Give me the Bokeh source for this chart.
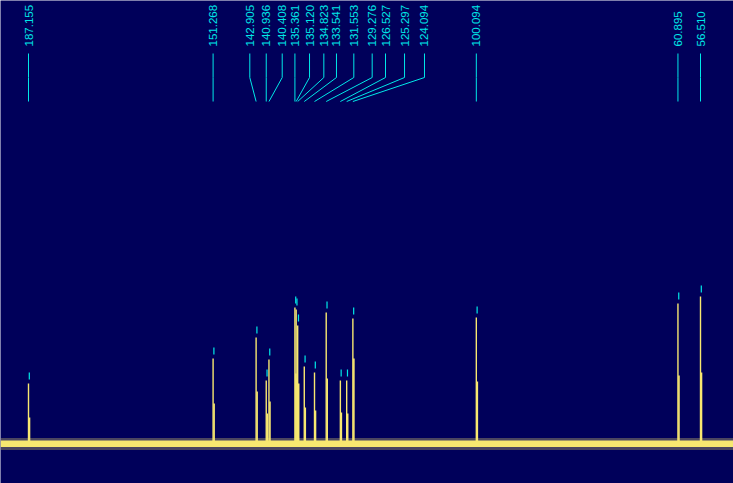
import math
from bokeh.plotting import figure
from bokeh.models import Range1d, ColumnDataSource
from bokeh.core.properties import value
from bokeh.embed import file_html
from bokeh.resources import INLINE

# ---- data ----
shifts = [187.155, 151.268, 142.905, 140.936, 140.408, 135.361, 135.120, 134.823,
          133.541, 131.553, 129.276, 126.527, 125.297, 124.094, 100.094, 60.895, 56.510]
heights = [60, 85, 106, 63, 84, 136, 134, 118, 77, 71, 131, 63, 63, 125, 126, 140, 147]
shoulders = [26, 40, 52, 30, 42, 70, 65, 60, 36, 33, 65, 31, 30, 85, 62, 68, 71]
# positions of the labels along the ppm axis (spread apart where peaks crowd)
label_pos = [187.155, 151.268, 144.13, 140.936, 137.83, 135.361, 132.52, 129.74,
             127.28, 123.91, 120.34, 117.75, 114.05, 110.17, 100.094, 60.895, 56.510]
# baseline noise: dense core and outer envelope
noise_core = [-3.5, 3.0]
noise_env = [-6.5, 5.5]

# ---- styles / layout ----
BG = "#00005a"
YEL = "#f8e870"
CYAN = "#00e8e8"
W, H = 733, 483
x_start, x_end = 192.599, 50.095
y_start, y_end = -40, 443
px = (x_start - x_end) / W      # ppm per pixel
py = (y_end - y_start) / H      # units per pixel

p = figure(width=W, height=H, output_backend="svg", toolbar_location=None,
           x_range=Range1d(x_start, x_end), y_range=Range1d(y_start, y_end),
           min_border=0, background_fill_color=BG, border_fill_color=BG)
p.axis.visible = False
p.grid.visible = False
p.outline_line_color = None

# baseline noise envelope
p.varea(x=[x_start, x_end], y1=[noise_env[0]] * 2, y2=[noise_env[1]] * 2,
        fill_color=YEL, fill_alpha=0.3)
p.varea(x=[x_start, x_end], y1=[noise_core[0]] * 2, y2=[noise_core[1]] * 2,
        fill_color=YEL)

# peaks: main sample + neighbouring sample
src = ColumnDataSource(dict(x=shifts, top=heights, sh=shoulders,
                            xs=[s - 1.0 * px for s in shifts],
                            tx=[s - 0.8 * px for s in shifts],
                            t0=[h + 4 * py for h in heights],
                            t1=[h + 11 * py for h in heights],
                            lab=[f"{s:.3f}" for s in shifts],
                            lx=label_pos))
p.vbar(x="x", top="top", bottom=0, width=1.4 * px, source=src,
       fill_color=YEL, line_color=None)
p.vbar(x="xs", top="sh", bottom=0, width=1.6 * px, source=src,
       fill_color=YEL, line_color=None)

# small peak markers
p.segment(x0="tx", y0="t0", x1="tx", y1="t1", source=src, line_color=CYAN, line_width=1.2)

# label leader lines
top_v = 443 - 53
kink_v = 443 - 77
bot_v = 443 - 101
xs = [[lx, lx, s] for lx, s in zip(label_pos, shifts)]
ys = [[top_v, kink_v, bot_v] for _ in shifts]
p.multi_line(xs=xs, ys=ys, line_color=CYAN, line_width=1)

# labels
p.text(x="lx", y=443 - 46, text="lab", source=src, angle=math.pi / 2,
       text_align="left", text_baseline="middle", text_color=CYAN,
       text_font=value("Liberation Sans"), text_font_size="11.5px")

open("out.html", "w").write(file_html(p, INLINE))
